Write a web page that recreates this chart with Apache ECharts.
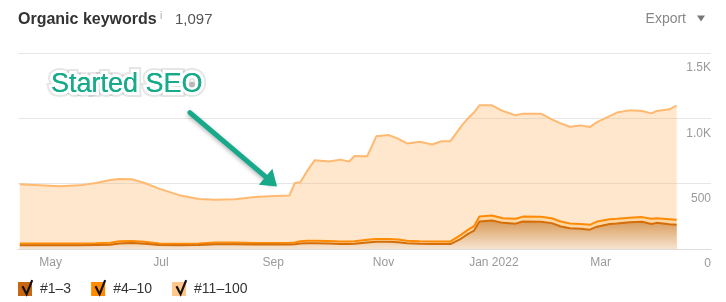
<!DOCTYPE html>
<html><head><meta charset="utf-8">
<script src="https://cdn.jsdelivr.net/npm/echarts@6/dist/echarts.min.js"></script>
<style>html,body{margin:0;padding:0;background:#fff}#c{width:726px;height:302px}</style>
</head><body><div id="c"></div>
<script>
// ---- data ----
const dates = ['2021-04-14','2021-04-25','2021-05-06','2021-05-17','2021-05-26','2021-06-03','2021-06-08','2021-06-15','2021-06-22','2021-06-30',
 '2021-07-11','2021-07-22','2021-07-31','2021-08-11','2021-08-22','2021-09-02','2021-09-10','2021-09-13','2021-09-16','2021-09-20',
 '2021-09-24','2021-10-02','2021-10-08','2021-10-13','2021-10-16','2021-10-23','2021-10-28','2021-11-04','2021-11-09','2021-11-14',
 '2021-11-21','2021-11-28','2021-12-03','2021-12-08','2021-12-14','2021-12-18','2021-12-21','2021-12-24','2021-12-31','2022-01-06',
 '2022-01-13','2022-01-17','2022-01-27','2022-02-02','2022-02-07','2022-02-12','2022-02-18','2022-02-23','2022-02-27','2022-03-06',
 '2022-03-10','2022-03-17','2022-03-24','2022-03-29','2022-04-01','2022-04-08','2022-04-12'];
const pos1to3 = [28,28,28,28,30,32,42,46,40,30, 28,30,36,36,34,34,35,36,42,44, 44,42,38,38,40,50,55,56,52,44,
 40,38,38,38,80,118,140,210,218,200, 194,210,208,198,172,158,155,148,171,192, 195,204,208,192,200,190,185];
const pos4to10 = [14,14,14,15,14,16,18,16,15,12, 12,12,14,14,12,12,13,14,18,20, 20,20,20,20,20,20,21,21,20,20,
 20,20,20,20,30,32,35,38,38,36, 38,38,38,37,38,37,37,37,39,36, 37,36,36,39,36,38,38];
const pos11to100 = [453,446,438,444,461,480,476,472,450,420, 372,340,327,330,352,359,362,455,450,536, 616,608,626,612,652,640,786,795,773,744,
 760,742,767,767,830,855,869,852,844,820, 791,788,790,757,751,741,754,748,761,789, 812,821,812,807,820,841,874];
const seriesNames = ['#1–3','#4–10','#11–100'];
const totalKeywords = '1,097';
const xTickDates = ['2021-05-01','2021-07-01','2021-09-01','2021-11-01','2022-01-01','2022-03-01'];
const xTickLabels = ['May','Jul','Sep','Nov','Jan 2022','Mar'];
const yTickValues = [0,500,1000,1500];
const yTickLabels = ['0','500','1.0K','1.5K'];
const xRange = ['2021-04-13','2022-05-01'];
const arrowFrom = ['2021-07-17', 1044];
const arrowTo = ['2021-08-31', 516];

// ---- helpers ----
function ts(s){const p=s.split('-').map(Number);return Date.UTC(p[0],p[1]-1,p[2]);}
const xTickTs = xTickDates.map(ts);
function xLabel(v){let best=-1,bd=Infinity;xTickTs.forEach((t,i)=>{const d=Math.abs(t-v);if(d<bd){bd=d;best=i;}});return bd<2*864e5?xTickLabels[best]:'';}
function yLabel(v){const i=yTickValues.indexOf(v);return i>=0?yTickLabels[i]:'';}
// cumulative (stacked) tops built from the three position groups
const cumLow = pos1to3.slice();
const cumMid = pos1to3.map((v,i)=>v+pos4to10[i]);
const cumTop = cumMid.map((v,i)=>v+pos11to100[i]);
const mk = arr => dates.map((d,i)=>[ts(d),arr[i]]);

const chart = echarts.init(document.getElementById('c'), null, {renderer:'canvas'});
function check(x0,y0){return {type:'polyline',shape:{points:[[x0+4.5,y0+4.2],[x0+8.6,y0+12.2],[x0+14.2,y0-1.8]]},style:{stroke:'#111',lineWidth:2.2,fill:null,lineJoin:'miter'},z:100};}
const sFont = '27px Arial, Liberation Sans';
chart.setOption({
  animation:false,
  grid:{left:18,right:15,top:53,bottom:53,containLabel:false},
  xAxis:{type:'value',min:ts(xRange[0]),max:ts(xRange[1]),
    axisLine:{show:true,onZero:false,lineStyle:{color:'#dcdcdc',width:1}},
    axisTick:{show:true,inside:true,length:6,customValues:xTickTs,lineStyle:{color:'#d8d8d8'}},
    axisLabel:{customValues:xTickTs,formatter:xLabel,color:'#999',fontSize:12,fontFamily:'Arial, Liberation Sans',margin:8},
    splitLine:{show:false}},
  yAxis:{type:'value',position:'right',min:0,max:1500,interval:500,
    axisLine:{show:false},axisTick:{show:false},
    axisLabel:{inside:true,margin:0,verticalAlign:'top',padding:[9,0,0,0],formatter:yLabel,color:'#999',fontSize:12,fontFamily:'Arial, Liberation Sans'},
    splitLine:{show:true,lineStyle:{color:'#e6e6e6',width:1}}},
  legend:{left:18,top:282,padding:0,itemWidth:14,itemHeight:14,itemGap:20,icon:'rect',selectedMode:false,
    textStyle:{color:'#333',fontSize:14,fontFamily:'Arial, Liberation Sans',padding:[0,0,0,3]},
    data:seriesNames},
  series:[
    {name:seriesNames[2],type:'line',data:mk(cumTop),showSymbol:false,symbol:'none',z:2,
      itemStyle:{color:'#ffc78a'},lineStyle:{color:'#ffb970',width:2},
      areaStyle:{color:'rgba(255,178,92,0.31)',opacity:1},
      markLine:{silent:true,animation:false,symbol:['none','path://M0,-10L9,8L-9,8Z'],symbolSize:[21,15],
        label:{show:false},
        lineStyle:{color:'#17a98a',width:5,type:'solid',cap:'round',shadowColor:'rgba(0,0,0,0.3)',shadowBlur:4,shadowOffsetY:2},
        data:[[{coord:[ts(arrowFrom[0]),arrowFrom[1]]},{coord:[ts(arrowTo[0]),arrowTo[1]]}]]}},
    {name:seriesNames[1],type:'line',data:mk(cumMid),showSymbol:false,symbol:'none',z:3,
      itemStyle:{color:'#ff8a00'},lineStyle:{color:'#ff8a05',width:2},
      areaStyle:{color:'#ffd7a4',opacity:1}},
    {name:seriesNames[0],type:'line',data:mk(cumLow),showSymbol:false,symbol:'none',z:4,
      itemStyle:{color:'#c8670f'},lineStyle:{color:'#d46e08',width:2},
      areaStyle:{color:new echarts.graphic.LinearGradient(0,0,0,1,[{offset:0,color:'#d99a58'},{offset:1,color:'#f6e4d0'}]),opacity:1}}
  ],
  graphic:[
    {type:'text',x:18,y:19.5,style:{text:'Organic keywords',font:'bold 16px Arial, Liberation Sans',fill:'#333',verticalAlign:'middle'}},
    {type:'text',x:160,y:16,style:{text:'i',font:'10px Arial, Liberation Sans',fill:'#aaa',verticalAlign:'middle'}},
    {type:'text',x:175,y:20,style:{text:totalKeywords,font:'15px Arial, Liberation Sans',fill:'#555',verticalAlign:'middle'}},
    {type:'text',x:686,y:18.7,style:{text:'Export',font:'14px Arial, Liberation Sans',fill:'#888',align:'right',verticalAlign:'middle'}},
    {type:'polygon',shape:{points:[[697,15.5],[705,15.5],[701,21.5]]},style:{fill:'#777'}},
    {type:'text',x:51,y:85,z:49,style:{text:'Started SEO',font:sFont,fill:'#ccc',stroke:'rgba(0,0,0,0.10)',lineWidth:10,lineJoin:'round',verticalAlign:'middle'}},
    {type:'text',x:51,y:85,z:50,style:{text:'Started SEO',font:sFont,fill:'#17ab8b',stroke:'#fff',lineWidth:6,lineJoin:'round',verticalAlign:'middle'}},
    {type:'text',x:51,y:85,z:51,style:{text:'Started SEO',font:sFont,fill:'#17ab8b',verticalAlign:'middle'}},
    {type:'circle',shape:{cx:192,cy:84.5,r:3},style:{fill:'#b9b9b9'},z:60},
    check(18,282), check(91,282), check(172,282)
  ]
});
</script></body></html>
